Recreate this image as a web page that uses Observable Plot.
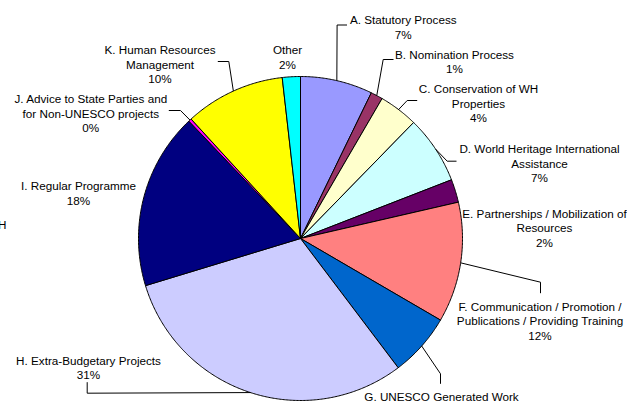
<!DOCTYPE html>
<html><head><meta charset="utf-8">
<script src="https://cdn.jsdelivr.net/npm/d3@7"></script>
<script src="https://cdn.jsdelivr.net/npm/@observablehq/plot@0.6"></script>
<style>html,body{margin:0;padding:0;background:#fff;overflow:hidden}</style>
</head><body><div id="chart"></div>
<script>
// ---- data ----
const categories = [
  "A. Statutory Process",
  "B. Nomination Process",
  "C. Conservation of WH\nProperties",
  "D. World Heritage International\nAssistance",
  "E. Partnerships / Mobilization of\nResources",
  "F. Communication / Promotion /\nPublications / Providing Training",
  "G. UNESCO Generated Work",
  "H. Extra-Budgetary Projects",
  "I. Regular Programme",
  "J. Advice to State Parties and\nfor Non-UNESCO projects",
  "K. Human Resources\nManagement",
  "Other"
];
const values = [7.2, 1.2, 3.9, 6.8, 2.3, 12.0, 6.3, 30.6, 17.6, 0.3, 10.0, 1.8];
const colors = ["#9999FF", "#993366", "#FFFFCC", "#CCFFFF", "#660066", "#FF8080",
                "#0066CC", "#CCCCFF", "#000080", "#FF00FF", "#FFFF00", "#00FFFF"];
// percentage shown under each label (G's falls below the visible area in the reference)
const showPercent = [true, true, true, true, true, true, false, true, true, true, true, true];

// ---- layout (pixels) ----
const W = 627, H = 403, CX = 300, CY = 238, R = 162;
const FS = 11.7, LH = 14.4;
const px = (x) => (x - CX) / R;
const py = (y) => (CY - y) / R;
// first-line centre of each label, and leader elbow / end points (null = no leader)
const labelLayout = [
  {t: [402.8, 17],  lead: [[336.6, 24.5], [346.5, 24.5]]},
  {t: [454, 51.5], lead: [[382.7, 59], [393, 59]]},
  {t: [478, 86],  lead: [[406.7, 100], [416.7, 100]]},
  {t: [539, 146], lead: [[446.7, 160.7], [456, 160.7]]},
  {t: [544, 210.5], lead: null},
  {t: [539.5, 303.3], lead: [[540, 281.7], [540, 292.7]]},
  {t: [441, 393.3], lead: [[440, 373.3], [440, 383.3]]},
  {t: [88, 357.3], lead: [[86.7, 392.7], [86.7, 381.7]]},
  {t: [78, 182.7], lead: null},
  {t: [90.3, 96], lead: [[180, 110], [168.3, 110]]},
  {t: [159.5, 46.7], lead: [[228.3, 61], [217.3, 61]]},
  {t: [287, 46.7], lead: null}
];

// ---- geometry ----
const total = d3.sum(values);
let acc = 0;
const slices = values.map((v, i) => {
  const a0 = acc / total * 2 * Math.PI;
  acc += v;
  const a1 = acc / total * 2 * Math.PI;
  const pts = [{x: 0, y: 0}];
  const n = Math.max(2, Math.ceil((a1 - a0) / (Math.PI / 360)));
  for (let k = 0; k <= n; k++) {
    const a = a0 + (a1 - a0) * k / n;
    pts.push({x: Math.sin(a), y: Math.cos(a)});
  }
  pts.push({x: 0, y: 0});
  return {i, pts, mid: (a0 + a1) / 2, color: colors[i]};
});

const leaders = [];
slices.forEach((s, i) => {
  const L = labelLayout[i].lead;
  if (!L) return;
  leaders.push({id: i, x: Math.sin(s.mid), y: Math.cos(s.mid)});
  L.forEach(([x, y]) => leaders.push({id: i, x: px(x), y: py(y)}));
});

const labels = categories.map((c, i) => ({
  x: px(labelLayout[i].t[0]),
  y: py(labelLayout[i].t[1] + 5 - 0.71 * FS),
  text: c + (showPercent[i] ? "\n" + Math.round(values[i]) + "%" : "")
}));

const chart = Plot.plot({
  width: W, height: H,
  marginTop: 0, marginRight: 0, marginBottom: 0, marginLeft: 0,
  x: {domain: [px(0), px(W)], axis: null},
  y: {domain: [py(H), py(0)], axis: null},
  style: {fontFamily: "'Liberation Sans', Arial, sans-serif", fontSize: FS + "px", background: "#fff", color: "#000"},
  marks: [
    ...slices.map(s => Plot.line(s.pts, {x: "x", y: "y", fill: s.color, stroke: "#000", strokeWidth: 1, strokeLinejoin: "miter", curve: "linear"})),
    Plot.line(leaders, {x: "x", y: "y", z: "id", stroke: "#000", strokeWidth: 1, strokeLinejoin: "miter", strokeLinecap: "butt"}),
    Plot.text(labels, {x: "x", y: "y", text: "text", fontSize: FS, lineAnchor: "top", lineHeight: LH / FS, fill: "#000"}),
    Plot.text([{x: px(6), y: py(225)}], {x: "x", y: "y", text: () => "WH", textAnchor: "end", fontSize: FS, fill: "#000"})
  ]
});
document.getElementById("chart").appendChild(chart);
</script>
</body></html>
